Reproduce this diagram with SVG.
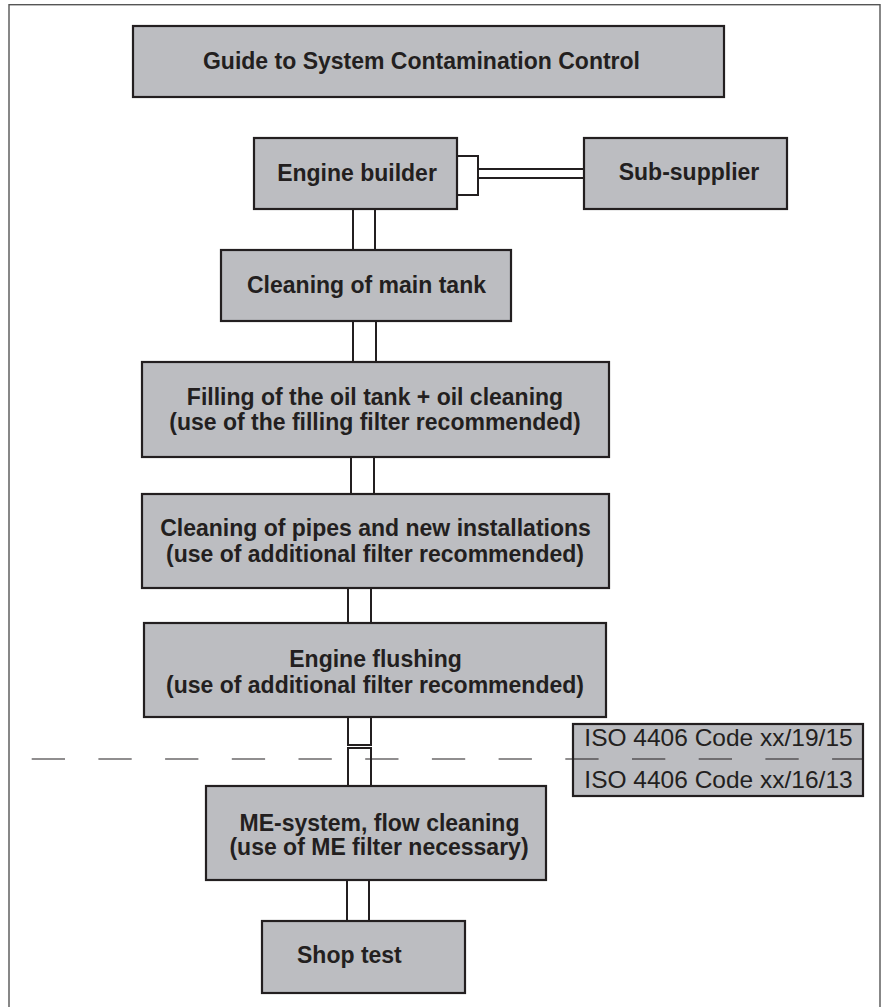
<svg xmlns="http://www.w3.org/2000/svg" width="886" height="1007" viewBox="0 0 886 1007">
<style>
.box{fill:#bcbdc1;stroke:#231f20;stroke-width:2.2}
.con{fill:#ffffff;stroke:#231f20;stroke-width:2}
.t{font-family:"Liberation Sans",Arial,Helvetica,sans-serif;font-weight:bold;font-size:23px;fill:#231f20}
.r{font-family:"Liberation Sans",Arial,Helvetica,sans-serif;font-weight:normal;font-size:24.5px;fill:#231f20}
.m{text-anchor:middle}
</style>
<rect x="0" y="0" width="886" height="1007" fill="#ffffff"/>
<rect x="9" y="4.7" width="871" height="1010" fill="none" stroke="#555555" stroke-width="1.4"/>

<g id="connectors">
<rect class="con" x="457" y="156" width="21" height="39"/>
<rect class="con" x="478" y="169" width="106" height="9"/>
<rect class="con" x="353" y="209" width="22" height="41"/>
<rect class="con" x="353" y="321" width="23" height="41"/>
<rect class="con" x="351" y="457" width="23" height="37"/>
<rect class="con" x="348" y="588" width="23" height="35"/>
<rect class="con" x="348" y="717" width="23" height="28"/>
<rect class="con" x="348" y="748" width="23" height="38"/>
<rect class="con" x="347" y="880" width="22" height="41"/>
</g>

<g id="title">
<rect class="box" x="133" y="26" width="591" height="71"/>
<text class="t m" x="421.5" y="69">Guide to System Contamination Control</text>
</g>

<g id="engine-builder">
<rect class="box" x="254" y="138" width="203" height="71"/>
<text class="t m" x="357" y="181">Engine builder</text>
</g>

<g id="sub-supplier">
<rect class="box" x="584" y="138" width="203" height="71"/>
<text class="t m" x="689" y="180">Sub-supplier</text>
</g>

<g id="cleaning-main-tank">
<rect class="box" x="221" y="250" width="290" height="71"/>
<text class="t m" x="366.5" y="293">Cleaning of main tank</text>
</g>

<g id="filling">
<rect class="box" x="142" y="362" width="467" height="95"/>
<text class="t m" x="375" y="405">Filling of the oil tank + oil cleaning</text>
<text class="t m" x="375" y="430">(use of the filling filter recommended)</text>
</g>

<g id="cleaning-pipes">
<rect class="box" x="142" y="494" width="467" height="94"/>
<text class="t m" x="375.5" y="536">Cleaning of pipes and new installations</text>
<text class="t m" x="375" y="562">(use of additional filter recommended)</text>
</g>

<g id="engine-flushing">
<rect class="box" x="144" y="623" width="462" height="94"/>
<text class="t m" x="375.5" y="667">Engine flushing</text>
<text class="t m" x="375" y="693">(use of additional filter recommended)</text>
</g>

<g id="iso-codes">
<rect class="box" x="573" y="724" width="290" height="72"/>
<text class="r m" x="718.5" y="746">ISO 4406 Code xx/19/15</text>
<text class="r m" x="718.5" y="788">ISO 4406 Code xx/16/13</text>
</g>

<g id="limit-line">
<line x1="31.7" y1="759" x2="863" y2="759" stroke="#231f20" stroke-width="1.2" stroke-dasharray="33.3 33.4"/>
</g>

<g id="me-system">
<rect class="box" x="206" y="786" width="340" height="94"/>
<text class="t m" x="379.5" y="831">ME-system, flow cleaning</text>
<text class="t m" x="379" y="855">(use of ME filter necessary)</text>
</g>

<g id="shop-test">
<rect class="box" x="262" y="921" width="203" height="72"/>
<text class="t" x="297" y="963">Shop test</text>
</g>
</svg>
